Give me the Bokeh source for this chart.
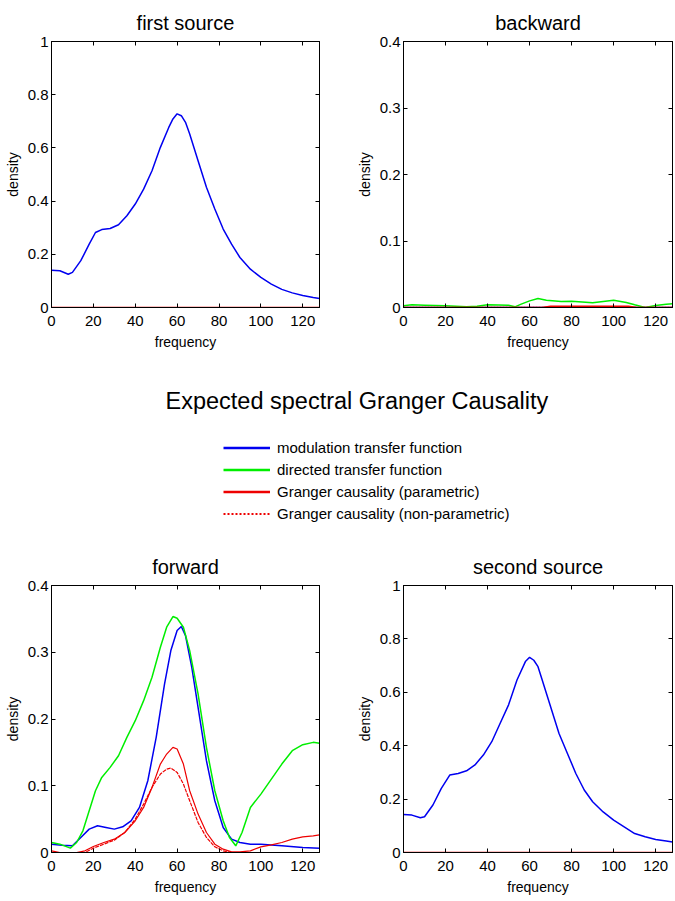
from bokeh.plotting import figure
from bokeh.layouts import column, row
from bokeh.models import Range1d, LinearAxis, FixedTicker, Legend, LegendItem
from bokeh.embed import file_html
from bokeh.resources import INLINE

FONT = "Liberation Sans"

# ---------------- data ----------------
x_ticks = [0, 20, 40, 60, 80, 100, 120]
y_ticks_source = [0, 0.2, 0.4, 0.6, 0.8, 1.0]
y_ticks_cross = [0, 0.1, 0.2, 0.3, 0.4]

# first source (modulation transfer function)
s1_freq = [0, 4, 8, 10, 14, 18, 21, 24, 28, 32, 36, 40, 44, 48, 52, 56, 58, 60, 62, 64, 66,
           70, 74, 78, 82, 86, 90, 95, 100, 105, 110, 115, 120, 125, 128]
s1_mtf = [0.140, 0.138, 0.125, 0.132, 0.176, 0.238, 0.282, 0.293, 0.297, 0.311, 0.345, 0.389,
          0.445, 0.514, 0.602, 0.677, 0.709, 0.728, 0.721, 0.696, 0.652, 0.552, 0.452, 0.370,
          0.295, 0.238, 0.188, 0.144, 0.113, 0.088, 0.068, 0.055, 0.045, 0.038, 0.034]
zero_freq = [0, 128]
zero_gc = [0.0, 0.0]

# second source (modulation transfer function)
s2_freq = [0, 4, 8, 10, 14, 18, 22, 26, 30, 34, 38, 42, 46, 50, 54, 58, 60, 62, 64, 66, 70,
           74, 78, 82, 86, 90, 95, 100, 105, 110, 115, 120, 125, 128]
s2_mtf = [0.142, 0.140, 0.130, 0.134, 0.178, 0.240, 0.290, 0.296, 0.306, 0.328, 0.365, 0.415,
          0.484, 0.553, 0.646, 0.715, 0.731, 0.720, 0.696, 0.646, 0.546, 0.446, 0.371, 0.296,
          0.234, 0.190, 0.152, 0.121, 0.096, 0.071, 0.059, 0.049, 0.043, 0.039]

# backward
bw_dtf_freq = [0, 4, 10, 20, 30, 35, 40, 50, 53, 56, 60, 64, 68, 75, 80, 90, 100, 106, 110,
               115, 120, 125, 128]
bw_dtf = [0.0025, 0.004, 0.0035, 0.0025, 0.001, 0.002, 0.004, 0.0035, 0.001, 0.005, 0.010,
          0.0135, 0.011, 0.009, 0.0095, 0.007, 0.011, 0.0075, 0.004, 0.0, 0.003, 0.005, 0.0055]
bw_mtf_freq = [0, 128]
bw_mtf = [0.0, 0.0]
bw_gc_freq = [0, 66, 70, 107, 111, 128]
bw_gc = [0.0, 0.0, 0.002, 0.002, 0.0, 0.0]
bw_gcnp_freq = [0, 128]
bw_gcnp = [0.0, 0.0]

# forward
fw_dtf_freq = [0, 4, 9, 12, 15, 18, 21, 24, 28, 32, 36, 40, 44, 48, 52, 55, 58, 60, 63, 66,
               70, 74, 78, 82, 85, 88, 91, 95, 100, 105, 110, 115, 120, 125, 128]
fw_dtf = [0.015, 0.0125, 0.0065, 0.015, 0.0325, 0.0625, 0.0925, 0.1125, 0.1275, 0.145, 0.1725,
          0.1975, 0.2275, 0.2625, 0.3075, 0.3375, 0.3535, 0.351, 0.3375, 0.3025, 0.2375, 0.1575,
          0.0925, 0.0475, 0.0225, 0.010, 0.030, 0.0675, 0.0875, 0.110, 0.1325, 0.1525, 0.1615,
          0.165, 0.1635]
fw_mtf_freq = [0, 5, 10, 14, 18, 22, 26, 30, 34, 38, 42, 46, 50, 54, 57, 60, 62, 64, 67, 70,
               74, 78, 82, 86, 90, 95, 100, 110, 120, 128]
fw_mtf = [0.0125, 0.011, 0.010, 0.0225, 0.035, 0.040, 0.0375, 0.035, 0.0385, 0.0475, 0.0675,
          0.1075, 0.1725, 0.2525, 0.3025, 0.3325, 0.3385, 0.325, 0.2775, 0.2175, 0.1375, 0.0775,
          0.0375, 0.020, 0.015, 0.0125, 0.0125, 0.010, 0.0075, 0.0065]
fw_gc_freq = [0, 4, 12, 16, 20, 25, 30, 35, 40, 44, 48, 52, 55, 58, 60, 63, 66, 70, 74, 78,
              82, 86, 90, 95, 100, 105, 110, 115, 120, 125, 128]
fw_gc = [0.0025, 0.0, 0.0, 0.0025, 0.009, 0.015, 0.020, 0.030, 0.0475, 0.0675, 0.0975, 0.1325,
         0.1475, 0.1575, 0.155, 0.1325, 0.0925, 0.0575, 0.030, 0.0125, 0.005, 0.001, 0.001,
         0.0025, 0.0085, 0.0115, 0.015, 0.020, 0.0235, 0.025, 0.0265]
fw_gcnp_freq = [0, 16, 20, 25, 30, 35, 40, 44, 48, 52, 55, 57, 60, 63, 66, 70, 74, 78, 82, 86,
                128]
fw_gcnp = [0.0, 0.0, 0.0065, 0.0125, 0.0185, 0.030, 0.050, 0.0725, 0.0975, 0.1175, 0.125,
           0.1265, 0.120, 0.1025, 0.0775, 0.045, 0.0225, 0.0085, 0.0025, 0.0, 0.0]

legend_labels = ["modulation transfer function", "directed transfer function",
                 "Granger causality (parametric)", "Granger causality (non-parametric)"]

BLUE = "#0000f0"
GREEN = "#00ee00"
RED = "#ee0000"


def make_panel(title, ymax, yticks, width, height, left, right, top, bottom):
    p = figure(width=width, height=height, output_backend="svg", toolbar_location=None,
               x_range=Range1d(0, 128), y_range=Range1d(0, ymax),
               min_border_left=left, min_border_right=right,
               min_border_top=top, min_border_bottom=bottom,
               x_axis_label="frequency", y_axis_label="density")
    p.title.text = title
    p.title.text_font = FONT
    p.title.text_font_size = "20px"
    p.title.text_font_style = "normal"
    p.title.text_color = "black"
    p.title.align = "center"
    p.title.standoff = 15
    p.grid.visible = False
    p.outline_line_color = "black"
    p.background_fill_color = "white"
    p.border_fill_color = "white"
    for ax in p.xaxis + p.yaxis:
        ax.major_tick_in = 4
        ax.major_tick_out = 0
        ax.minor_tick_line_color = None
        ax.axis_line_color = "black"
        ax.major_tick_line_color = "black"
        ax.major_label_text_font = FONT
        ax.major_label_text_font_size = "15px"
        ax.major_label_text_color = "black"
        ax.axis_label_text_font = FONT
        ax.axis_label_text_font_size = "14px"
        ax.axis_label_text_font_style = "normal"
        ax.axis_label_text_color = "black"
    p.xaxis.major_label_standoff = 8
    p.xaxis.axis_label_standoff = 5
    p.yaxis.major_label_standoff = 3
    p.yaxis.axis_label_standoff = 4
    p.xaxis.ticker = FixedTicker(ticks=x_ticks)
    p.yaxis.ticker = FixedTicker(ticks=yticks)
    p.yaxis.major_label_overrides = {0: "0", 1: "1"}
    # box ticks on top and right (no labels)
    for loc, tk in (("above", x_ticks), ("right", yticks)):
        ax = LinearAxis(ticker=FixedTicker(ticks=tk), major_tick_in=4, major_tick_out=0,
                        minor_tick_line_color=None,
                        major_label_overrides={t: "" for t in tk},
                        major_label_standoff=0, axis_line_color="black",
                        major_tick_line_color="black")
        p.add_layout(ax, loc)
    return p


# row 1
p1 = make_panel("first source", 1, y_ticks_source, 340, 360, 51, 21, 41, 53)
p1.line(s1_freq, s1_mtf, color=BLUE, line_width=1.5)
p1.line(zero_freq, zero_gc, color=RED, line_width=1.5)

p2 = make_panel("backward", 0.4, y_ticks_cross, 335, 360, 63, 3, 41, 53)
p2.line(bw_mtf_freq, bw_mtf, color=BLUE, line_width=1.5)
p2.line(bw_dtf_freq, bw_dtf, color=GREEN, line_width=1.5)
p2.line(bw_gc_freq, bw_gc, color=RED, line_width=1.5)
p2.line(bw_gcnp_freq, bw_gcnp, color=RED, line_width=1.5, line_dash="2 1")

# middle: title and legend
pm = figure(width=675, height=180, output_backend="svg", toolbar_location=None,
            x_range=Range1d(0, 128), y_range=Range1d(0, 0.4),
            min_border_left=223, min_border_right=0, min_border_top=77, min_border_bottom=0)
pm.axis.visible = False
pm.grid.visible = False
pm.outline_line_color = None
pm.title.text = "Expected spectral Granger Causality"
pm.title.text_font = FONT
pm.title.text_font_size = "23.5px"
pm.title.text_font_style = "normal"
pm.title.text_color = "black"
pm.title.align = "left"
pm.title.offset = -58
pm.title.standoff = 48
# legend entries carry the forward-panel series (hidden here, shown only as legend keys)
r_mtf = pm.line(fw_mtf_freq, fw_mtf, color=BLUE, line_width=2.5, visible=False)
r_dtf = pm.line(fw_dtf_freq, fw_dtf, color=GREEN, line_width=2.5, visible=False)
r_gc = pm.line(fw_gc_freq, fw_gc, color=RED, line_width=2.5, visible=False)
r_gcnp = pm.line(fw_gcnp_freq, fw_gcnp, color=RED, line_width=2, line_dash="2 2",
                 visible=False)
legend = Legend(items=[LegendItem(label=lab, renderers=[r]) for lab, r in
                       zip(legend_labels, [r_mtf, r_dtf, r_gc, r_gcnp])],
                location="top_left", margin=0, padding=0, spacing=1,
                glyph_width=47, glyph_height=21, label_height=21, label_standoff=7,
                label_text_font=FONT, label_text_font_size="15px", label_text_color="black",
                border_line_color=None, background_fill_alpha=0,
                inactive_fill_alpha=0)
pm.add_layout(legend)

# row 2
p3 = make_panel("forward", 0.4, y_ticks_cross, 340, 361, 51, 21, 45, 49)
p3.line(fw_mtf_freq, fw_mtf, color=BLUE, line_width=1.5)
p3.line(fw_dtf_freq, fw_dtf, color=GREEN, line_width=1.5)
p3.line(fw_gc_freq, fw_gc, color=RED, line_width=1.2)
p3.line(fw_gcnp_freq, fw_gcnp, color=RED, line_width=1.2, line_dash="4 1")

p4 = make_panel("second source", 1, y_ticks_source, 335, 361, 63, 3, 45, 49)
p4.line(s2_freq, s2_mtf, color=BLUE, line_width=1.5)
p4.line(zero_freq, zero_gc, color=RED, line_width=1.5)

layout = column(row(p1, p2), pm, row(p3, p4))
open("out.html", "w").write(file_html(layout, INLINE))
